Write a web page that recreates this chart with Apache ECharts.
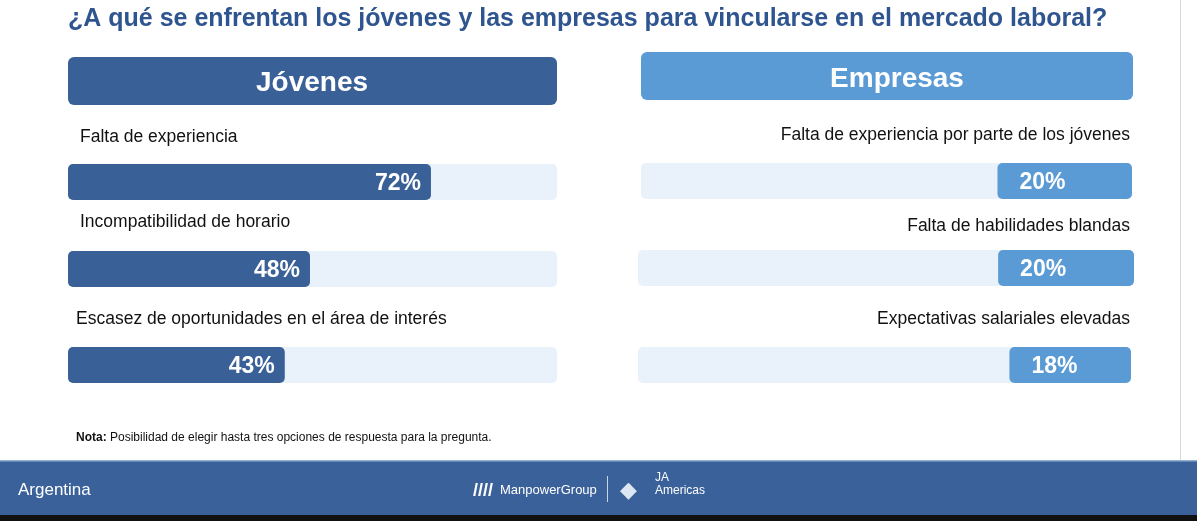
<!DOCTYPE html>
<html><head><meta charset="utf-8">
<script src="https://cdn.jsdelivr.net/npm/echarts@6/dist/echarts.min.js"></script>
<style>html,body{margin:0;padding:0;background:#fff}#c{width:1197px;height:521px}</style>
</head><body><div id="c"></div>
<script>
const jovenesCats = ["Falta de experiencia","Incompatibilidad de horario","Escasez de oportunidades en el área de interés"];
const jovenesVals = [72,48,43];
const empresasCats = ["Falta de experiencia por parte de los jóvenes","Falta de habilidades blandas","Expectativas salariales elevadas"];
const empresasVals = [20,20,18];

const leftRows=[{y:182,lab:136},{y:269,lab:221},{y:365,lab:318}];
const rightRows=[{y:181,lab:134,l:641,r:1132},{y:268,lab:225,l:638,r:1134},{y:365,lab:318,l:638,r:1131}];
const grids=[],xAxes=[],yAxes=[],series=[],graphic=[];
function addBar(idx,left,width,top,cat,val,max,inv,color){
  grids.push({left:left,top:top-18,width:width,height:36});
  xAxes.push({gridIndex:idx,type:'value',min:0,max:max,inverse:inv,show:false});
  yAxes.push({gridIndex:idx,type:'category',data:[cat],show:false});
  series.push({type:'bar',xAxisIndex:idx,yAxisIndex:idx,data:[val],barWidth:36,
    showBackground:true,backgroundStyle:{color:'#e9f1fa',borderRadius:5},
    itemStyle:{color:color,borderRadius:5},
    label:{show:true,position:inv?'insideLeft':'insideRight',distance:inv?22:10,color:'#fff',fontSize:23,fontWeight:'bold',fontFamily:'Liberation Sans',formatter:'{c}%',offset:[0,2]}});
}
jovenesCats.forEach((c,i)=>{
  addBar(i,68,489,leftRows[i].y,c,jovenesVals[i],97,false,'#3a6098');
  graphic.push({type:'text',left:i==2?76:80,top:leftRows[i].lab-8,style:{text:c,fontSize:17.5,fill:'#111',fontFamily:'Liberation Sans'}});
});
empresasCats.forEach((c,i)=>{
  const r=rightRows[i];
  addBar(3+i,r.l,r.r-r.l,r.y,c,empresasVals[i],73,true,'#5b9bd5');
  graphic.push({type:'text',right:1197-1130,top:r.lab-8,style:{text:c,fontSize:17.5,fill:'#111',fontFamily:'Liberation Sans',align:'right'}});
});
graphic.push(
 {type:'text',left:68,top:7,style:{text:'¿A qué se enfrentan los jóvenes y las empresas para vincularse en el mercado laboral?',fontSize:25,fontWeight:'bold',fill:'#2f5590',fontFamily:'Liberation Sans'}},
 {type:'rect',shape:{x:68,y:57,width:489,height:48,r:6},style:{fill:'#3a6098'}},
 {type:'text',x:312,y:83,style:{text:'Jóvenes',fontSize:28,fontWeight:'bold',fill:'#fff',align:'center',verticalAlign:'middle',fontFamily:'Liberation Sans'}},
 {type:'rect',shape:{x:641,y:52,width:492,height:48,r:6},style:{fill:'#5b9bd5'}},
 {type:'text',x:897,y:79,style:{text:'Empresas',fontSize:28,fontWeight:'bold',fill:'#fff',align:'center',verticalAlign:'middle',fontFamily:'Liberation Sans'}},
 {type:'text',left:76,top:432,style:{rich:{b:{fontWeight:'bold',fontSize:12,fill:'#111'},n:{fontSize:12,fill:'#111'}},text:'{b|Nota:} {n|Posibilidad de elegir hasta tres opciones de respuesta para la pregunta.}',fontFamily:'Liberation Sans'}},
 {type:'rect',shape:{x:0,y:461,width:1197,height:54},style:{fill:'#3a6199'}},
 {type:'rect',shape:{x:0,y:460,width:1197,height:1.5},style:{fill:'#8fb0d0'}},
 {type:'rect',shape:{x:0,y:515,width:1197,height:6},style:{fill:'#111'}},
 {type:'text',left:18,top:482,style:{text:'Argentina',fontSize:17,fill:'#fff',fontFamily:'Liberation Sans'}},
 {type:'text',left:473,top:482,style:{text:'////',fontSize:18,fontWeight:'bold',fill:'#fff',fontFamily:'Liberation Sans'}},
 {type:'text',left:500,top:484,style:{text:'ManpowerGroup',fontSize:13,fill:'#fff',fontFamily:'Liberation Sans'}},
 {type:'rect',shape:{x:607,y:476,width:1,height:26},style:{fill:'#c8d6e8'}},
 {type:'text',left:620,top:480,style:{text:'◆',fontSize:22,fill:'#dde7f3'}},
 {type:'text',left:655,top:471,style:{text:'JA\nAmericas',fontSize:12,lineHeight:13,fill:'#fff',fontFamily:'Liberation Sans'}},
 {type:'rect',shape:{x:1180,y:0,width:1,height:460},style:{fill:'#d8d8d8'}}
);
const ch=echarts.init(document.getElementById('c'));
ch.setOption({animation:false,grid:grids,xAxis:xAxes,yAxis:yAxes,series:series,graphic:graphic});
</script></body></html>
